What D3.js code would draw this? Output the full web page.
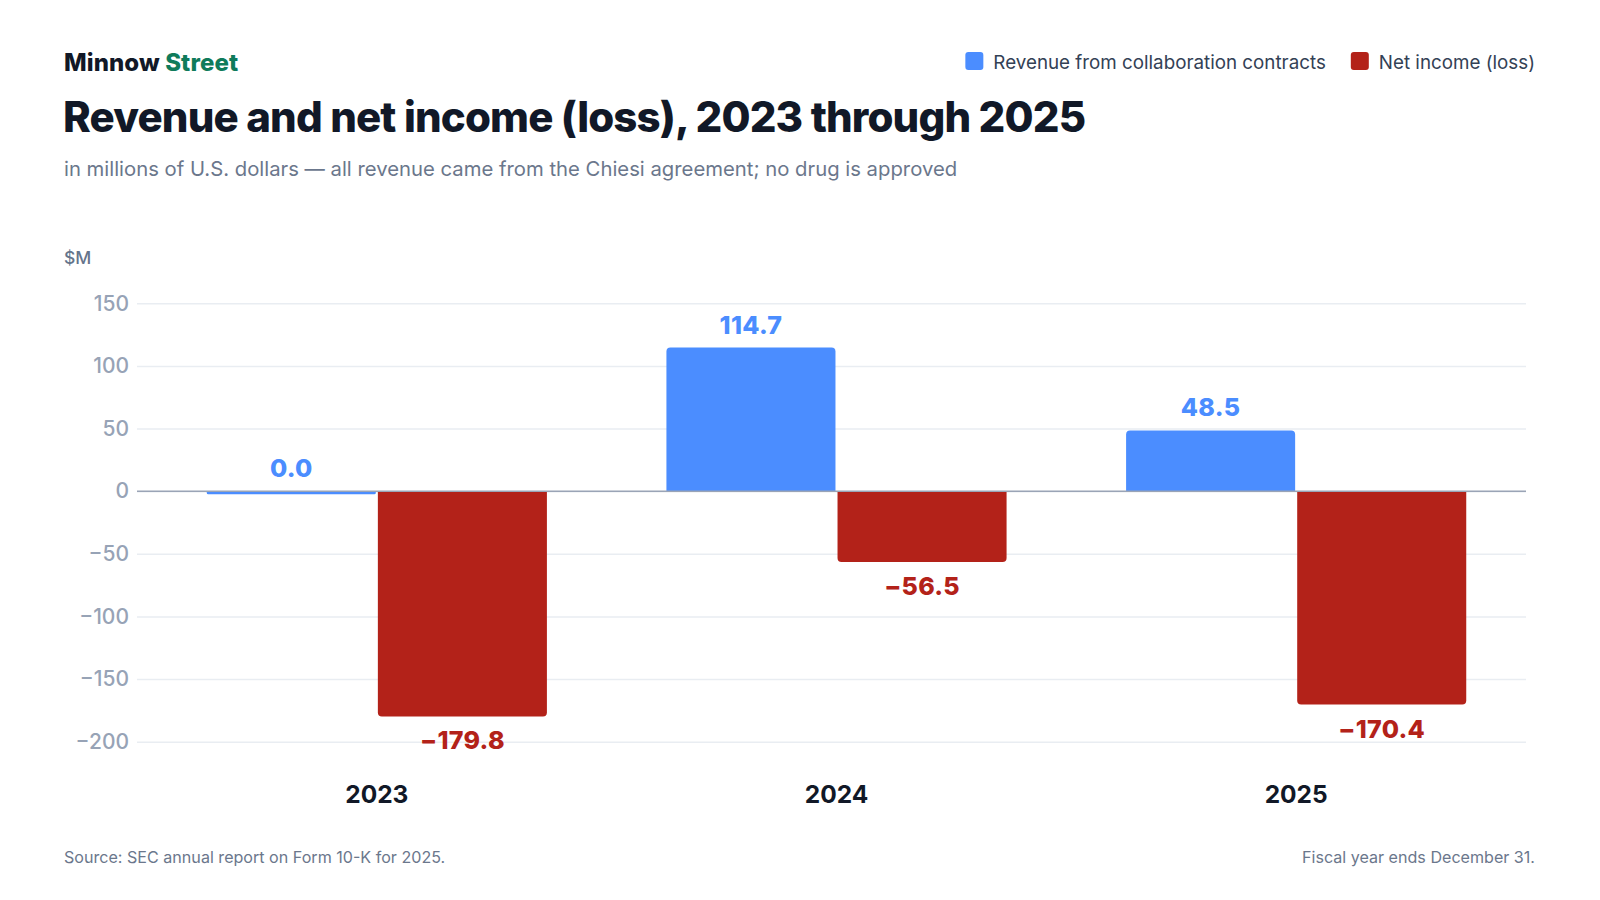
<!DOCTYPE html>
<html>
<head>
<meta charset="utf-8">
<script src="https://cdn.jsdelivr.net/npm/d3@7"></script>
<style>
  body { margin: 0; background: #fff; }
  svg { display: block; font-family: Inter, "Noto Sans", sans-serif; }
</style>
</head>
<body>
<div id="container"></div>
<script>
/* CONSTANTS AND GLOBALS */
const width = 1600,
  height = 900,
  margin = { top: 303, bottom: 158, left: 137, right: 74 };

/* DATA */
const years = ["2023", "2024", "2025"];
const series = ["Revenue from collaboration contracts", "Net income (loss)"];
const revenue = [0.0, 114.7, 48.5];
const netIncome = [-179.8, -56.5, -170.4];
const yTicks = [-200, -150, -100, -50, 0, 50, 100, 150];
const colors = ["#4b8dff", "#b32219"];

const rows = years.map((y, i) => ({ year: y, values: [revenue[i], netIncome[i]] }));

/* SCALES */
const yScale = d3.scaleLinear()
  .domain([-200, 150])
  .range([741.7, 303.3]);

const xScale = d3.scaleBand()
  .domain(years)
  .range([147, 1526])
  .paddingInner(0.26)
  .paddingOuter(0.13);

const xSub = d3.scaleBand()
  .domain(d3.range(series.length))
  .range([0, xScale.bandwidth()])
  .paddingInner(0.012);

const fmt = d3.format(".1f");

/* HTML ELEMENTS */
const svg = d3.select("#container")
  .append("svg")
  .attr("width", width)
  .attr("height", height);

// header
const brand = svg.append("text")
  .attr("x", 64).attr("y", 71)
  .attr("font-size", 24).attr("font-weight", 800)
  .attr("letter-spacing", "0.1");
brand.append("tspan").attr("fill", "#111827").text("Minnow ");
brand.append("tspan").attr("fill", "#0f7b5b").text("Street");

svg.append("text")
  .attr("x", 63).attr("y", 132)
  .attr("font-size", 42).attr("font-weight", 800)
  .attr("letter-spacing", "-0.85")
  .attr("fill", "#111827")
  .text("Revenue and net income (loss), 2023 through 2025");

svg.append("text")
  .attr("x", 64).attr("y", 176)
  .attr("font-size", 20.3)
  .attr("fill", "#6b778c")
  .text("in millions of U.S. dollars — all revenue came from the Chiesi agreement; no drug is approved");

// legend, right aligned
const legend = svg.append("g");
let lx = 1535;
for (let i = series.length - 1; i >= 0; i--) {
  const t = legend.append("text")
    .attr("y", 68.5)
    .attr("font-size", 18.8)
    .attr("fill", "#334155")
    .attr("text-anchor", "end")
    .attr("x", lx)
    .text(series[i]);
  const w = t.node().getComputedTextLength();
  legend.append("rect")
    .attr("x", lx - w - 28).attr("y", 52)
    .attr("width", 18).attr("height", 18)
    .attr("rx", 3)
    .attr("fill", colors[i]);
  lx = lx - w - 28 - 25;
}

// unit label
svg.append("text")
  .attr("x", 64).attr("y", 264)
  .attr("font-size", 17.5)
  .attr("font-weight", 500)
  .attr("fill", "#64748b")
  .text("$M");

// grid + y ticks
const yAxis = d3.axisLeft(yScale)
  .tickValues(yTicks)
  .tickSize(-(1526 - margin.left))
  .tickPadding(8)
  .tickFormat(d3.format("d"));

const gy = svg.append("g")
  .attr("transform", `translate(${margin.left},0)`)
  .call(yAxis);
gy.select(".domain").remove();
gy.selectAll(".tick line")
  .attr("stroke", "#e9edf2")
  .attr("stroke-width", 1.5);
gy.selectAll(".tick text")
  .attr("font-family", "Inter, sans-serif")
  .attr("font-size", 21)
  .attr("font-weight", 500)
  .attr("fill", "#97a3b6")
  .attr("x", -8);

// bars
function barPath(x, w, v) {
  const y0 = yScale(0);
  let y1 = yScale(v);
  if (Math.abs(y1 - y0) < 3) y1 = y0 + 3;
  const r = Math.min(4, Math.abs(y1 - y0) / 2);
  if (y1 < y0) {
    return `M${x},${y0}V${y1 + r}Q${x},${y1} ${x + r},${y1}H${x + w - r}Q${x + w},${y1} ${x + w},${y1 + r}V${y0}Z`;
  }
  return `M${x},${y0}V${y1 - r}Q${x},${y1} ${x + r},${y1}H${x + w - r}Q${x + w},${y1} ${x + w},${y1 - r}V${y0}Z`;
}

const groups = svg.selectAll("g.year")
  .data(rows)
  .join("g")
  .attr("class", "year")
  .attr("transform", d => `translate(${xScale(d.year)},0)`);

groups.selectAll("path")
  .data(d => d.values)
  .join("path")
  .attr("d", (v, i) => barPath(xSub(i), xSub.bandwidth(), v))
  .attr("fill", (v, i) => colors[i]);

// zero line
svg.append("line")
  .attr("x1", margin.left).attr("x2", 1526)
  .attr("y1", yScale(0)).attr("y2", yScale(0))
  .attr("stroke", "#9aa4b6")
  .attr("stroke-width", 1.5);

// value labels
groups.selectAll("text.val")
  .data(d => d.values)
  .join("text")
  .attr("class", "val")
  .attr("x", (v, i) => xSub(i) + xSub.bandwidth() / 2)
  .attr("y", v => v >= 0 ? yScale(v) - 14 : yScale(v) + 33)
  .attr("text-anchor", "middle")
  .attr("font-size", 25)
  .attr("font-weight", 800)
  .attr("letter-spacing", "0.3")
  .attr("fill", (v, i) => colors[i])
  .text(v => fmt(v));

// year labels
svg.selectAll("text.yr")
  .data(years)
  .join("text")
  .attr("class", "yr")
  .attr("x", d => xScale(d) + xScale.bandwidth() / 2)
  .attr("y", 803)
  .attr("text-anchor", "middle")
  .attr("font-size", 24.5)
  .attr("font-weight", 700)
  .attr("fill", "#111827")
  .text(d => d);

// footer
svg.append("text")
  .attr("x", 64).attr("y", 863)
  .attr("font-size", 16.1)
  .attr("fill", "#6b778c")
  .text("Source: SEC annual report on Form 10-K for 2025.");

svg.append("text")
  .attr("x", 1535).attr("y", 863)
  .attr("text-anchor", "end")
  .attr("font-size", 16.1)
  .attr("fill", "#6b778c")
  .text("Fiscal year ends December 31.");
</script>
</body>
</html>
